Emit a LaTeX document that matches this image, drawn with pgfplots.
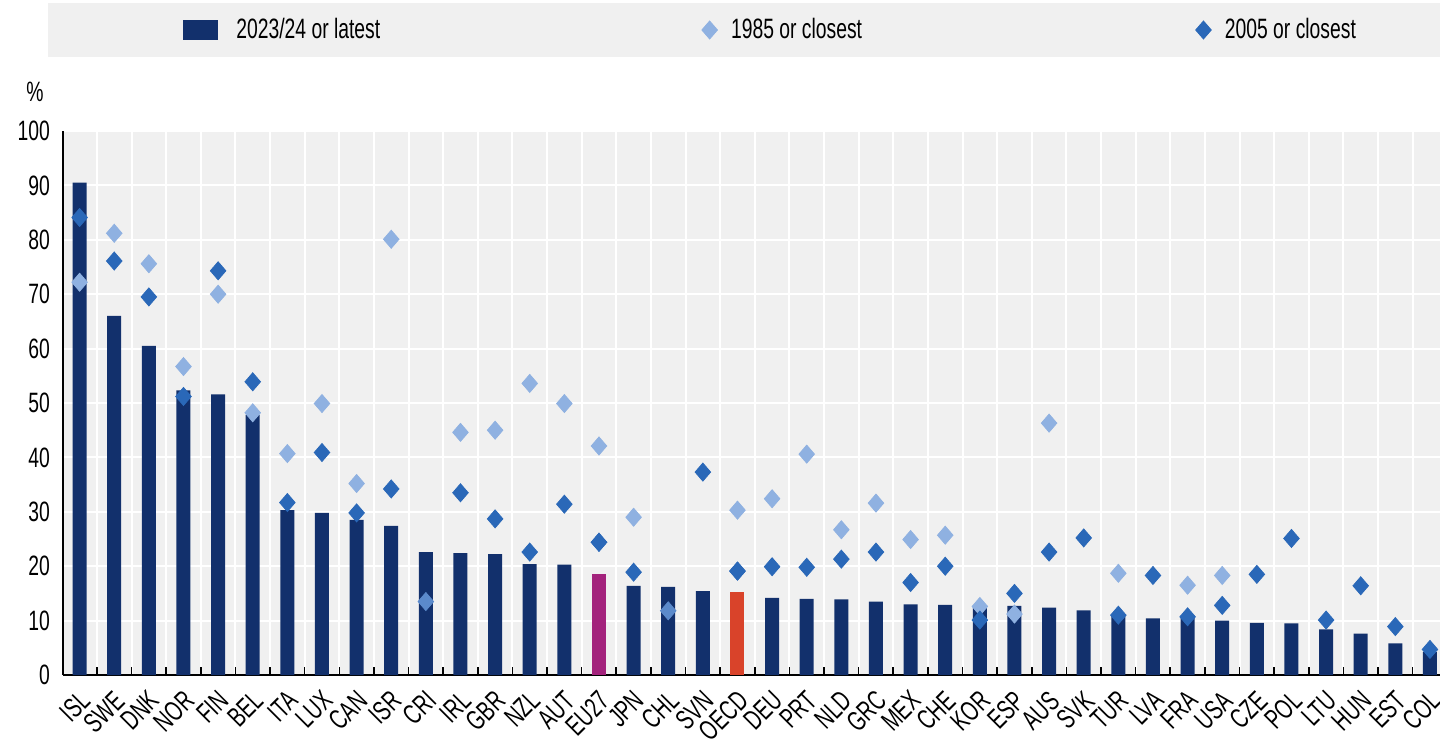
\documentclass[border=0pt]{standalone}
\usepackage{fontspec}
\setmainfont[FakeStretch=0.69]{Liberation Sans}
\usepackage{pgfplots}
\usepackage{pgfplotstable}
\pgfplotsset{compat=1.18}

\definecolor{navy}{HTML}{12306C}
\definecolor{eucol}{HTML}{A3227C}
\definecolor{oecdcol}{HTML}{D9432A}
\definecolor{light85}{HTML}{8FB1E1}
\definecolor{dark05}{HTML}{2A68B8}
\definecolor{mid05}{HTML}{5B8ACB}
\definecolor{bggray}{HTML}{F0F0F0}

% i, bar (latest), 1985, 2005
\pgfplotstableread{
i  bar   y85   y05
0  90.5  72.2  84.1
1  66.0  81.2  76.1
2  60.5  75.6  69.5
3  52.3  56.7  51.2
4  51.6  70.0  74.3
5  47.8  48.2  53.9
6  30.3  40.7  31.7
7  29.8  49.9  40.9
8  28.5  35.2  29.8
9  27.4  80.1  34.2
10 22.6  nan   nan
11 22.4  44.6  33.5
12 22.2  45.0  28.7
13 20.4  53.6  22.6
14 20.3  49.9  31.4
15 nan   42.1  24.4
16 16.4  29.0  18.9
17 16.2  nan   nan
18 15.4  nan   37.3
19 nan   30.3  19.1
20 14.2  32.4  19.9
21 14.0  40.6  19.8
22 13.9  26.7  21.3
23 13.5  31.6  22.6
24 13.0  24.9  17.0
25 12.9  25.7  20.0
26 12.3  12.6  10.1
27 12.7  11.2  15.0
28 12.4  46.3  22.6
29 11.9  nan   25.2
30 11.0  18.7  11.0
31 10.4  nan   18.3
32 10.6  16.5  10.7
33 10.0  18.3  12.8
34 9.6   nan   18.5
35 9.5   nan   25.1
36 8.4   nan   10.1
37 7.6   nan   16.4
38 5.8   nan   8.9
39 4.2   nan   4.7
}\datatable

\pgfplotsset{dmd/.style={only marks, mark=diamond*, mark size=4.5pt,
  mark options={xscale=1.15},
  legend image code/.code={%
    \fill[##1] (8.5pt,4.5pt) -- (12.4pt,0pt) -- (8.5pt,-4.5pt) -- (4.6pt,0pt) -- cycle;
    \path (0pt,0pt) (17pt,0pt);}}}

\begin{document}
\begin{tikzpicture}[font=\fontsize{14}{16}\selectfont]
% legend band
\fill[bggray] (-7.5pt,309pt) rectangle (688.5pt,336pt);
\node at (-14pt,291.5pt) {\%};
\begin{axis}[
  at={(0,0)}, anchor=south west,
  scale only axis,
  width=688.5pt, height=272pt,
  xmin=-0.48, xmax=39.29,
  ymin=0, ymax=100,
  axis lines*=left,
  axis line style={black, line width=0.8pt},
  axis background/.style={fill=bggray},
  ytick={0,10,...,100},
  major tick length=0pt,
  /pgf/number format/assume math mode=true,
  yticklabel style={xshift=-3pt},
  xtick={0,...,39},
  xticklabels={ISL,SWE,DNK,NOR,FIN,BEL,ITA,LUX,CAN,ISR,CRI,IRL,GBR,NZL,AUT,EU27,JPN,CHL,SVN,OECD,DEU,PRT,NLD,GRC,MEX,CHE,KOR,ESP,AUS,SVK,TUR,LVA,FRA,USA,CZE,POL,LTU,HUN,EST,COL},
  xticklabel style={rotate=45, anchor=north east, xshift=-2pt, yshift=-1pt},
  minor xtick={-0.5,0.5,...,39.5},
  minor tick length=4pt,
  tick align=inside,
  minor tick style={black, line width=0.8pt},
  ymajorgrids, xminorgrids,
  grid style={white, line width=1pt},
  minor grid style={white, line width=1pt},
  legend columns=3,
  legend style={at={(rel axis cs:0.0871,1)}, anchor=west, yshift=50.5pt,
    draw=none, fill=none, inner sep=0pt, font=\fontsize{14}{16}\selectfont,
    /tikz/column 2/.style={column sep=154pt},
    /tikz/column 4/.style={column sep=160pt}},
  legend cell align=left,
]
\addplot[ybar, bar width=7pt, bar shift=0pt, fill=navy, draw=none,
  legend image code/.code={\fill[navy] (0pt,-5pt) rectangle (17.5pt,5pt); \path (24.5pt,0pt);}]
  table[x=i, y=bar] {\datatable};
\addlegendentry{2023/24 or latest}
\addplot[dmd, color=light85]
  table[x=i, y=y85] {\datatable};
\addlegendentry{1985 or closest}
\addplot[dmd, color=dark05]
  table[x=i, y=y05] {\datatable};
\addlegendentry{2005 or closest}
\addplot[ybar, bar width=7pt, bar shift=0pt, fill=eucol, draw=none, forget plot]
  coordinates {(15,18.5)};
\addplot[ybar, bar width=7pt, bar shift=0pt, fill=oecdcol, draw=none, forget plot]
  coordinates {(19,15.3)};
\addplot[dmd, color=dark05, forget plot]
  coordinates {(15,24.4) (19,19.1)};
\addplot[dmd, color=mid05, forget plot]
  coordinates {(10,13.5) (17,11.8)};
\end{axis}
\pgfresetboundingbox
\path (-31.5pt,-35pt) rectangle (688.5pt,337.5pt);
\end{tikzpicture}
\end{document}
